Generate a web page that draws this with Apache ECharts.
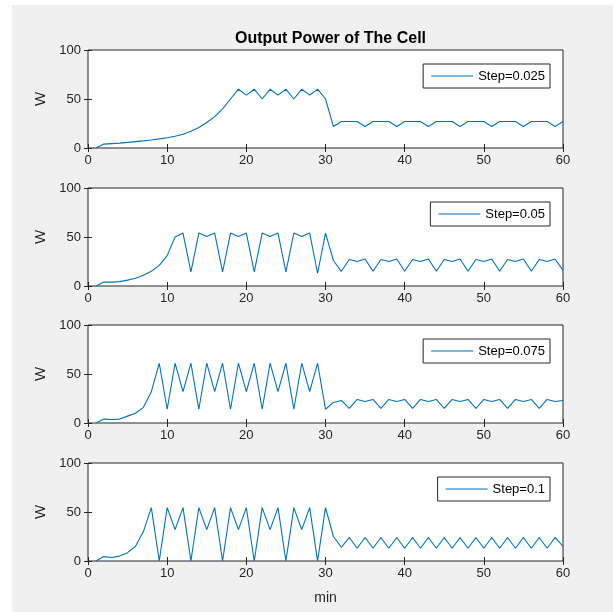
<!DOCTYPE html>
<html>
<head>
<meta charset="utf-8">
<script src="https://cdn.jsdelivr.net/npm/echarts@6/dist/echarts.min.js"></script>
<style>html,body{margin:0;padding:0;background:#fff}#c{width:613px;height:612px}</style>
</head>
<body>
<div id="c"></div>
<script>
const titleText = 'Output Power of The Cell';
const minutes = [1,2,3,4,5,6,7,8,9,10,11,12,13,14,15,16,17,18,19,20,21,22,23,24,25,26,27,28,29,30,31,32,33,34,35,36,37,38,39,40,41,42,43,44,45,46,47,48,49,50,51,52,53,54,55,56,57,58,59,60];
const xTickLabels = ['0','10','20','30','40','50','60'];
const yTickLabels = ['0','50','100'];
const seriesNames = ['Step=0.025','Step=0.05','Step=0.075','Step=0.1'];

const step025 = [0,4,4.5,5,5.7,6.5,7.3,8.2,9.3,10.5,12,14,17,21,26,32,40,50,60,54,60,50,60,54,60,50,60,54,60,50,
  22,27,27,27,22,27,27,27,22,27,27,27,22,27,27,27,22,27,27,27,22,27,27,27,22,27,27,27,22,27];
const step05 = [0,4,4,4.5,6,8,11,15,21,31,50,54,14.5,54,50.5,54,14.5,54,50.5,54,14.5,54,50.5,54,14.5,54,50.5,54,13,54,
  26,15,27,25,27.5,15,27,25,27.5,15,27,25,27.5,15,27,25,27.5,15,27,25,27.5,15,27,25,27.5,15,27,25,27.5,16];
const step075 = [0,4,3.5,4,7,10,16,32,61,14,61,32,61,14,61,32,61,14,61,32,61,14,61,32,61,14,61,32,61,14,
  21,23,15,24,22,24,15,24,22,24,15,24,22,24,15,24,22,24,15,24,22,24,15,24,22,24,15,24,22,23];
const step1 = [0,4.5,3.5,5,8.5,15,30,54.5,0,54.5,32,54.5,0,54.5,32,54.5,0,54.5,32,54.5,0,54.5,32,54.5,0,54.5,32,54.5,0,54.5,
  25,14,24,13,24,13,24,13,24,13,24,13,24,13,24,13,24,13,24,13,24,13,24,13,24,13,24,13,24,15];
const allValues = [step025, step05, step075, step1];

const FONT = 'Liberation Sans, Arial, Helvetica, sans-serif';
const AX = '#262626';
const tops = [50, 188, 325, 463];
const H = 98;

const grids = [], xAxes = [], yAxes = [], series = [], legends = [];
tops.forEach((t, i) => {
  grids.push({left: 88, right: 50, top: t, height: H, show: true, backgroundColor: '#ffffff',
    borderColor: AX, borderWidth: 1, containLabel: false});
  const xb = {gridIndex: i, type: 'value', min: 0, max: 60, interval: 10, position: 'bottom',
    axisLine: {show: false}, splitLine: {show: false},
    axisTick: {show: true, inside: true, length: 4, lineStyle: {color: AX}},
    axisLabel: {show: true, color: AX, fontSize: 13, fontFamily: FONT, margin: 6,
      formatter: v => xTickLabels[Math.round(v / 10)]}};
  if (i === 3) {
    xb.name = 'min'; xb.nameLocation = 'middle'; xb.nameGap = 30;
    xb.nameTextStyle = {color: AX, fontSize: 14, fontFamily: FONT};
  }
  xAxes.push(xb);
  xAxes.push({gridIndex: i, type: 'value', min: 0, max: 60, interval: 10, position: 'top',
    axisLine: {show: false}, splitLine: {show: false}, axisLabel: {show: false},
    axisTick: {show: true, inside: true, length: 4, lineStyle: {color: AX}}});
  yAxes.push({gridIndex: i, type: 'value', min: 0, max: 100, interval: 50, position: 'left',
    axisLine: {show: false}, splitLine: {show: false},
    axisTick: {show: true, inside: true, length: 4, lineStyle: {color: AX}},
    axisLabel: {show: true, color: AX, fontSize: 13, fontFamily: FONT, margin: 7,
      formatter: v => yTickLabels[Math.round(v / 50)]},
    name: 'W', nameLocation: 'middle', nameGap: 38, nameRotate: 90,
    nameTextStyle: {color: AX, fontSize: 15, fontFamily: FONT}});
  yAxes.push({gridIndex: i, type: 'value', min: 0, max: 100, interval: 50, position: 'right',
    axisLine: {show: false}, splitLine: {show: false}, axisLabel: {show: false},
    axisTick: {show: true, inside: true, length: 4, lineStyle: {color: AX}}});
  series.push({name: seriesNames[i], type: 'line', xAxisIndex: 2 * i, yAxisIndex: 2 * i,
    data: minutes.map((m, k) => [m, allValues[i][k]]),
    symbol: 'none', animation: false,
    lineStyle: {color: '#0072BD', width: 1.1}, itemStyle: {color: '#0072BD'}});
  legends.push({data: [{name: seriesNames[i], icon: 'rect'}], right: 63, top: t + 14, orient: 'horizontal',
    backgroundColor: '#ffffff', borderColor: AX, borderWidth: 1, borderRadius: 0,
    padding: [5, 5, 5, 8], itemWidth: 42, itemHeight: 1, selectedMode: false,
    itemStyle: {color: '#0072BD', borderWidth: 0},
    textStyle: {color: '#000', fontSize: 13, fontFamily: FONT, lineHeight: 14}});
});

const chart = echarts.init(document.getElementById('c'), null, {renderer: 'canvas'});
chart.setOption({
  backgroundColor: '#f0f0f0',
  animation: false,
  title: {text: titleText, left: 325.5, textAlign: 'center', top: 26,
    textStyle: {color: '#000', fontSize: 16, fontWeight: 'bold', fontFamily: FONT}},
  graphic: [
    {type: 'rect', left: 0, top: 0, shape: {width: 613, height: 5}, style: {fill: '#ffffff'}, silent: true},
    {type: 'rect', left: 0, top: 0, shape: {width: 12, height: 612}, style: {fill: '#ffffff'}, silent: true}
  ],
  grid: grids, xAxis: xAxes, yAxis: yAxes, legend: legends, series: series
});
</script>
</body>
</html>
